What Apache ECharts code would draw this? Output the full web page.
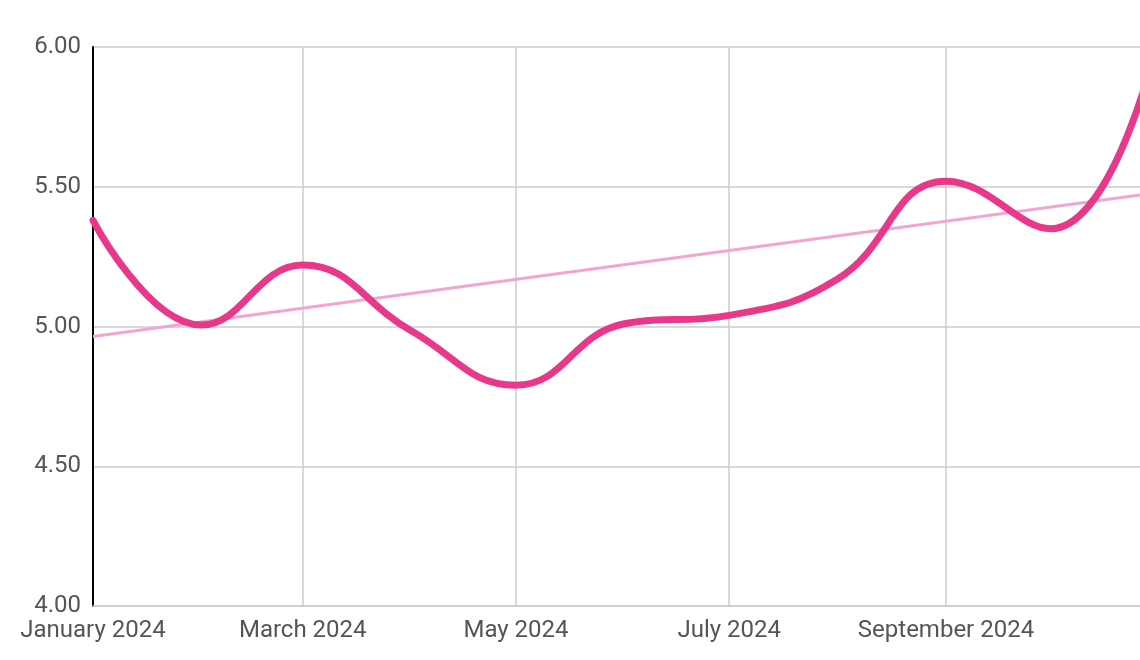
<!DOCTYPE html>
<html>
<head>
    <meta charset="utf-8">
    <style>
        html, body { margin: 0; padding: 0; background: #fff; }
        #chart { width: 1140px; height: 660px; }
    </style>
    <script src="https://cdn.jsdelivr.net/npm/echarts@6/dist/echarts.min.js"></script>
</head>
<body>
    <div id="chart"></div>
    <script type="text/javascript">
        // monthly values (1st of each month, 2024); the last point sits past the visible edge
        var months = ['2024-01-01', '2024-02-01', '2024-03-01', '2024-04-01', '2024-05-01', '2024-06-01',
                      '2024-07-01', '2024-08-01', '2024-09-01', '2024-10-01', '2024-11-01'];
        var values = [5.38, 5.005, 5.22, 4.985, 4.79, 5.01, 5.04, 5.17, 5.52, 5.35, 6.04];

        // trend line end points
        var trendDates = ['2024-01-01', '2024-11-01'];
        var trendValues = [4.964, 5.48];

        var labelDates = ['2024-01-01', '2024-03-01', '2024-05-01', '2024-07-01', '2024-09-01'];
        var monthNames = ['January', 'February', 'March', 'April', 'May', 'June', 'July',
                          'August', 'September', 'October', 'November', 'December'];

        function ts(s) {
            var p = s.split('-');
            return new Date(+p[0], +p[1] - 1, +p[2]).getTime();
        }

        var lineData = months.map(function (m, i) { return [ts(m), values[i]]; });
        var trendData = trendDates.map(function (m, i) { return [ts(m), trendValues[i]]; });
        var ticks = labelDates.map(ts);

        var chart = echarts.init(document.getElementById('chart'));
        chart.setOption({
            animation: false,
            grid: { left: 93, right: 0, top: 47, bottom: 54, containLabel: false },
            xAxis: {
                // dates as timestamps on a value axis so the tick spots can be set by hand
                type: 'value',
                min: ts('2024-01-01'),
                max: ts('2024-10-26') + 12 * 3600 * 1000,
                axisLine: { show: true, lineStyle: { color: '#cccccc', width: 1.5 } },
                axisTick: { show: false, customValues: ticks },
                axisLabel: {
                    customValues: ticks,
                    color: '#555555',
                    fontFamily: 'Roboto',
                    fontSize: 24,
                    margin: 13,
                    formatter: function (v) {
                        var d = new Date(v);
                        return monthNames[d.getMonth()] + ' ' + d.getFullYear();
                    }
                },
                splitLine: { show: true, lineStyle: { color: '#cccccc', width: 1.5 } }
            },
            yAxis: {
                type: 'value',
                min: 4,
                max: 6,
                interval: 0.5,
                axisLine: { show: true, lineStyle: { color: '#000000', width: 2 } },
                axisTick: { show: false },
                axisLabel: {
                    color: '#555555',
                    fontFamily: 'Roboto',
                    fontSize: 24,
                    margin: 12,
                    formatter: function (v) { return v.toFixed(2); }
                },
                splitLine: { show: true, lineStyle: { color: '#cccccc', width: 1.5 } }
            },
            series: [
                {
                    type: 'line',
                    data: trendData,
                    showSymbol: false,
                    lineStyle: { color: '#f2a6cf', width: 3 },
                    z: 2
                },
                {
                    type: 'line',
                    data: lineData,
                    smooth: 0.45,
                    showSymbol: false,
                    lineStyle: { color: '#e8388a', width: 7, cap: 'round' },
                    z: 3
                }
            ]
        });
    </script>
</body>
</html>
